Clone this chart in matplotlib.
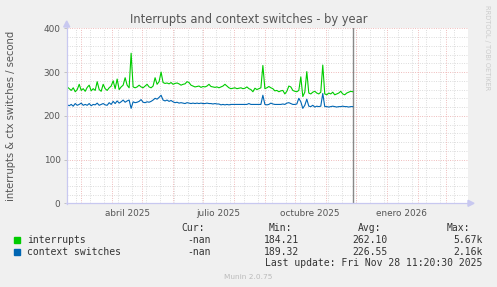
import matplotlib
matplotlib.use("Agg")
import matplotlib.pyplot as plt
import matplotlib.dates as mdates
from matplotlib.patches import Polygon, Rectangle
import pandas as pd
import numpy as np

# ---------------- data ----------------
start_date = "2025-02-15"
step_days = 2
interrupts = [
    266, 262, 258, 264, 255, 260, 272, 258, 262, 256,
    265, 270, 257, 262, 258, 278, 260, 256, 272, 262,
    258, 264, 268, 280, 262, 284, 260, 266, 270, 287,
    270, 264, 343, 266, 264, 266, 270, 266, 264, 268,
    272, 266, 264, 268, 287, 272, 278, 300, 276, 274,
    275, 273, 276, 272, 274, 275, 273, 270, 272, 273,
    278, 276, 270, 268, 266, 267, 268, 265, 267, 266,
    268, 272, 267, 266, 265, 266, 264, 266, 268, 272,
    268, 264, 262, 263, 264, 262, 263, 264, 262, 263,
    266, 262, 260, 255, 263, 260, 262, 264, 315, 262,
    264, 267, 264, 262, 257, 258, 255, 257, 258, 250,
    256, 268, 266, 258, 256, 255, 258, 289, 244, 254,
    301, 252, 250, 254, 256, 252, 250, 254, 316, 250,
    248, 252, 250, 254, 248, 250, 252, 256, 250, 248,
    252, 254, 256, 255,
]
context_switches = [
    225, 223, 226, 222, 228, 224, 226, 229, 224, 226,
    224, 228, 223, 226, 225, 229, 224, 226, 228, 225,
    224, 230, 226, 233, 228, 234, 229, 232, 236, 231,
    234, 236, 217, 232, 230, 231, 233, 237, 231, 230,
    232, 231, 233, 236, 240, 238, 242, 247, 236, 234,
    236, 233, 235, 232, 230, 231, 229, 230, 229, 228,
    230, 229, 228, 229, 228, 229, 228, 229, 228, 228,
    229, 228, 228, 227, 228, 227, 227, 225, 226, 225,
    226, 225, 226, 226, 226, 226, 226, 226, 226, 226,
    226, 228, 226, 226, 226, 226, 226, 226, 247, 226,
    225, 226, 229, 227, 226, 226, 226, 226, 227, 226,
    229, 230, 228, 226, 226, 227, 240, 232, 217, 224,
    238, 222, 221, 224, 220, 222, 221, 222, 251, 221,
    221, 220, 221, 222, 221, 220, 221, 221, 222, 221,
    221, 220, 221, 221,
]
series_names = ["interrupts", "context switches"]
series_colors = ["#00CC00", "#0066B3"]
stat_headers = ["Cur:", "Min:", "Avg:", "Max:"]
stat_cur = ["-nan", "-nan"]
stat_min = ["184.21", "189.32"]
stat_avg = ["262.10", "226.55"]
stat_max = ["5.67k", "2.16k"]
title = "Interrupts and context switches - by year"
ylabel = "interrupts & ctx switches / second"
x_labels = ["abril 2025", "julio 2025", "octubre 2025", "enero 2026"]
x_label_dates = ["2025-04-16", "2025-07-16", "2025-10-16", "2026-01-16"]
y_ticks = [0, 100, 200, 300, 400]
last_update = "Last update: Fri Nov 28 11:20:30 2025"
now_time = "2025-11-28 11:20:30"
x_start = "2025-02-14 11:00"
x_end = "2026-03-23 12:00"

# ---------------- figure ----------------
W, H = 497, 287
fig = plt.figure(figsize=(W / 100, H / 100), dpi=100)
fig.patch.set_facecolor("#F0F0F0")

def fx(px):
    return px / W

def fy(py):
    return 1 - py / H

L, R, T, B = 66.7, 468.0, 28.3, 203.3
ax = fig.add_axes([fx(L), fy(B), fx(R) - fx(L), fy(T) - fy(B)])
ax.set_facecolor("white")
for s in ax.spines.values():
    s.set_visible(False)

dates = pd.date_range(start_date, periods=len(interrupts), freq=f"{step_days}D")
xs = mdates.date2num(dates)
x0 = mdates.date2num(pd.Timestamp(x_start))
x1 = mdates.date2num(pd.Timestamp(x_end))
ax.set_xlim(x0, x1)
ax.set_ylim(0, 400)

dot = (0, (0.9, 1.5))
grid_kw = dict(lw=0.7, zorder=1, ls=dot)
minor_col = "#D8D8D8"
major_col = "#EDB4B4"
# horizontal grid
for v in range(20, 401, 20):
    ax.axhline(v, color=major_col if v % 100 == 0 else minor_col, **grid_kw)
# vertical minor grid (every two weeks, Mondays)
for d in pd.date_range("2025-02-24", x_end, freq="14D"):
    ax.axvline(mdates.date2num(d), color=minor_col, **grid_kw)
# vertical major grid (month starts)
for d in pd.date_range("2025-03-01", x_end, freq="MS"):
    ax.axvline(mdates.date2num(d), color=major_col, **grid_kw)

# now line
ax.axvline(mdates.date2num(pd.Timestamp(now_time)), color="#888888", lw=1.0, zorder=2)

ax.plot(xs, interrupts, color=series_colors[0], lw=0.8, zorder=3)
ax.plot(xs, context_switches, color=series_colors[1], lw=0.8, zorder=3)

# ticks
ax.set_yticks(y_ticks)
ax.set_yticklabels([str(v) for v in y_ticks])
ax.set_xticks(mdates.date2num(pd.to_datetime(x_label_dates)))
ax.set_xticklabels(x_labels)
ax.tick_params(axis="x", length=0, pad=4, labelsize=6.4, labelcolor="#555555")
ax.tick_params(axis="y", length=2.5, width=0.6, color="#BBBBBB", pad=2,
               labelsize=6.4, labelcolor="#555555")

# axis lines with arrows
axis_col = "#C8C8F0"
fig.add_artist(plt.Line2D([fx(L), fx(L)], [fy(B + 1), fy(25)], color=axis_col, lw=0.9))
fig.add_artist(plt.Line2D([fx(L - 1), fx(470)], [fy(B), fy(B)], color=axis_col, lw=0.9))
fig.add_artist(Polygon([[fx(L - 3), fy(27)], [fx(L + 3), fy(27)], [fx(L), fy(21)]],
                       closed=True, color=axis_col, transform=fig.transFigure))
fig.add_artist(Polygon([[fx(468), fy(B - 3)], [fx(468), fy(B + 3)], [fx(474), fy(B)]],
                       closed=True, color=axis_col, transform=fig.transFigure))

# title & labels
fig.text(fx(248.5), fy(19), title, ha="center", va="center", fontsize=8.3, color="#555555")
fig.text(fx(11), fy(115.5), ylabel, ha="center", va="center", rotation=90,
         fontsize=7.2, color="#555555")
fig.text(fx(487.5), fy(5), "RRDTOOL / TOBI OETIKER", ha="center", va="top",
         rotation=270, fontsize=4.8, color="#CCCCCC")

# legend
mono = dict(family="DejaVu Sans Mono", fontsize=7, color="#333333")
hdr_x = [181, 269, 358, 447]
for h, x in zip(stat_headers, hdr_x):
    fig.text(fx(x), fy(227.7), h, ha="left", va="center", **mono)
row_y = [240.0, 251.7]
val_right = [210.7, 299, 387.7, 482.7]
for i, name in enumerate(series_names):
    y = row_y[i]
    fig.add_artist(Rectangle((fx(14), fy(y + 2.8)), fx(5.8), fy(0) - fy(5.6),
                             color=series_colors[i], transform=fig.transFigure))
    fig.text(fx(26.7), fy(y), name, ha="left", va="center", **mono)
    for vals, xr in zip([stat_cur, stat_min, stat_avg, stat_max], val_right):
        fig.text(fx(xr), fy(y), vals[i], ha="right", va="center", **mono)
fig.text(fx(482.7), fy(263.3), last_update, ha="right", va="center", **mono)
fig.text(fx(247.8), fy(276.7), "Munin 2.0.75", ha="center", va="center",
         fontsize=5.3, color="#BBBBBB")

fig.savefig("out.png", dpi=100, facecolor=fig.get_facecolor())
